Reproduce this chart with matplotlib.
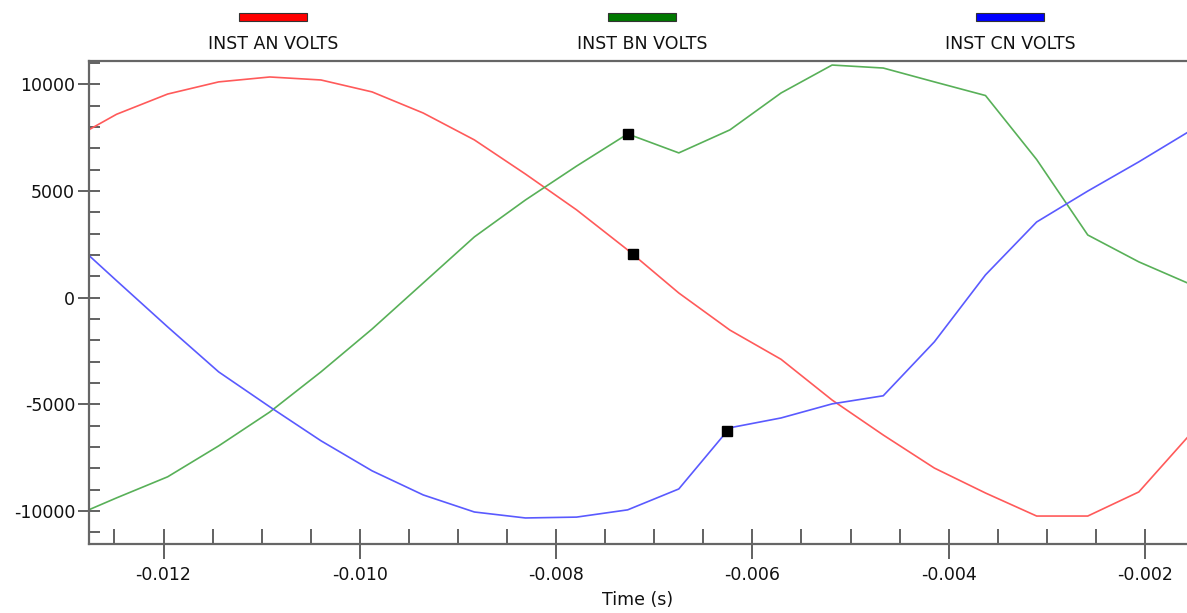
import matplotlib
matplotlib.use("Agg")
import matplotlib.pyplot as plt
from matplotlib.patches import Rectangle
from matplotlib.ticker import MultipleLocator, FormatStrFormatter
import numpy as np

# muestras de tiempo (s), 1920 muestras por segundo
tiempo = [-0.013000, -0.012479, -0.011958, -0.011438, -0.010917, -0.010396,
          -0.009875, -0.009354, -0.008833, -0.008313, -0.007792, -0.007271,
          -0.006750, -0.006229, -0.005708, -0.005188, -0.004667, -0.004146,
          -0.003625, -0.003104, -0.002583, -0.002063, -0.001542]

# tensiones instantaneas por fase (V)
volts_an = [7260, 8600, 9550, 10120, 10350, 10210, 9650, 8660, 7400, 5800,
            4120, 2240, 220, -1520, -2890, -4800, -6440, -7990, -9160,
            -10240, -10240, -9110, -6420]
volts_bn = [-10420, -9390, -8400, -6950, -5360, -3480, -1470, 690, 2850, 4580,
            6170, 7680, 6790, 7870, 9600, 10910, 10770, 10120, 9480, 6480,
            2940, 1680, 640]
volts_cn = [2990, 800, -1370, -3480, -5120, -6710, -8120, -9250, -10050,
            -10330, -10290, -9950, -8970, -6100, -5640, -4980, -4600, -2070,
            1070, 3550, 5000, 6370, 7820]

nombres = ["INST AN VOLTS", "INST BN VOLTS", "INST CN VOLTS"]
colores_linea = ["#ff5a5a", "#58b058", "#5a5aff"]
colores_leyenda = ["#ff0000", "#007800", "#0000ff"]
# posiciones de los cursores (s)
cursores = [-0.00722, -0.00727, -0.00626]

plt.rcParams["font.family"] = "DejaVu Sans"
plt.rcParams["axes.unicode_minus"] = False
fig = plt.figure(figsize=(11.87, 6.13), dpi=100)
ax = fig.add_axes([0.075, 0.1126, 0.925, 0.7879])

series = [volts_an, volts_bn, volts_cn]
for datos, color in zip(series, colores_linea):
    ax.plot(tiempo, datos, color=color, lw=1.2)

# marcas negras de los cursores
for datos, t in zip(series, cursores):
    ax.plot([t], [np.interp(t, tiempo, datos)], "s", color="black",
            markersize=6.5, zorder=5)

ax.set_xlim(-0.012759, -0.001572)
ax.set_ylim(-11550, 11100)

ax.xaxis.set_major_locator(MultipleLocator(0.002))
ax.xaxis.set_minor_locator(MultipleLocator(0.0005))
ax.xaxis.set_major_formatter(FormatStrFormatter("%.3f"))
ax.yaxis.set_major_locator(MultipleLocator(5000))
ax.yaxis.set_minor_locator(MultipleLocator(1000))

gris = "#555555"
ax.tick_params(axis="x", which="major", direction="inout", length=22,
               width=1.3, color=gris, labelsize=12.5, labelcolor="#111111", pad=5)
ax.tick_params(axis="x", which="minor", direction="in", length=11,
               width=1.3, color=gris)
ax.tick_params(axis="y", which="major", direction="inout", length=16,
               width=1.3, color=gris, labelsize=12.5, labelcolor="#111111", pad=2)
ax.tick_params(axis="y", which="minor", direction="in", length=8,
               width=1.3, color=gris)

for lado in ["left", "bottom", "top"]:
    ax.spines[lado].set_color("#666666")
    ax.spines[lado].set_linewidth(1.6)
ax.spines["right"].set_visible(False)

ax.set_xlabel("Time (s)", fontsize=12.5, color="#111111", labelpad=5)

# leyenda arriba: barra de color sobre el nombre
centros = [0.230, 0.541, 0.851]
for nombre, color, cx in zip(nombres, colores_leyenda, centros):
    fig.patches.append(Rectangle((cx - 0.0285, 0.9665), 0.057, 0.013,
                                 transform=fig.transFigure, facecolor=color,
                                 edgecolor="#333333", lw=0.8))
    fig.text(cx, 0.928, nombre, ha="center", va="center", fontsize=12.5,
             color="#111111")

fig.savefig("out.png", dpi=100, facecolor="white")
